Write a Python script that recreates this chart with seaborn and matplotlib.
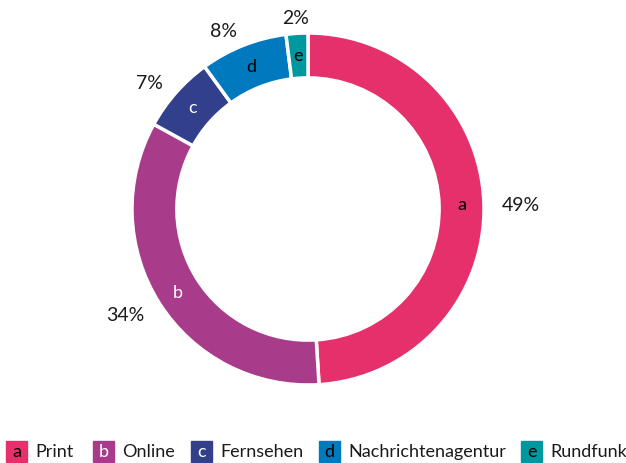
import matplotlib
matplotlib.use("Agg")
import matplotlib.pyplot as plt
from matplotlib.patches import Rectangle
import seaborn as sns

# Data
letters = ['a', 'b', 'c', 'd', 'e']
categories = ['Print', 'Online', 'Fernsehen', 'Nachrichtenagentur', 'Rundfunk']
shares = [49, 34, 7, 8, 2]
colors = ['#E5306B', '#A93C8A', '#323F8A', '#0079BF', '#00979F']
letter_colors = ['black', 'white', 'white', 'black', 'black']

sns.set_theme(style='white')
plt.rcParams['font.family'] = ['Lato', 'DejaVu Sans']

W, H = 626, 464
fig = plt.figure(figsize=(W / 100, H / 100), dpi=100)

# pie axes: centre (308, 210), outer radius 176 px
cx, cy, r = 308, 210, 176
ax = fig.add_axes([(cx - r) / W, (H - cy - r) / H, 2 * r / W, 2 * r / H])

wedges, texts, autotexts = ax.pie(
    shares,
    labels=letters,
    colors=sns.color_palette(colors),
    startangle=90,
    counterclock=False,
    radius=1,
    labeldistance=0.875,
    autopct=lambda p: f'{p:.0f}%',
    pctdistance=1.1,
    wedgeprops=dict(width=0.255, edgecolor='white', linewidth=2.5),
    textprops=dict(fontsize=14),
)
for t, c in zip(texts, letter_colors):
    t.set_color(c)
    t.set_fontsize(13)
    t.set_ha('center')
    t.set_va('center')

# anchor the percentage labels on the side facing the ring
for t in autotexts:
    x, y = t.get_position()
    t.set_color('#1a1a1a')
    t.set_fontsize(14)
    t.set_ha('left' if x > 0.3 else 'right' if x < -0.3 else 'center')
    t.set_va('center_baseline')

ax.set_xlim(-1, 1)
ax.set_ylim(-1, 1)
ax.set_aspect('equal')
ax.axis('off')

# Legend with lettered squares
legend_x = [6, 93, 191, 319, 521]
sq = 21
ly = 442
for x0, let, cat, col, lc in zip(legend_x, letters, categories, colors, letter_colors):
    fig.patches.append(Rectangle((x0 / W, 1 - (ly + sq) / H), sq / W, sq / H,
                                 transform=fig.transFigure, color=col))
    fig.text((x0 + sq / 2) / W, 1 - (ly + sq / 2) / H, let, color=lc,
             fontsize=13, ha='center', va='center')
    fig.text((x0 + sq + 8) / W, 1 - (ly + sq / 2) / H, cat, color='#1a1a1a',
             fontsize=13, ha='left', va='center')

fig.savefig('out.png', dpi=100)
